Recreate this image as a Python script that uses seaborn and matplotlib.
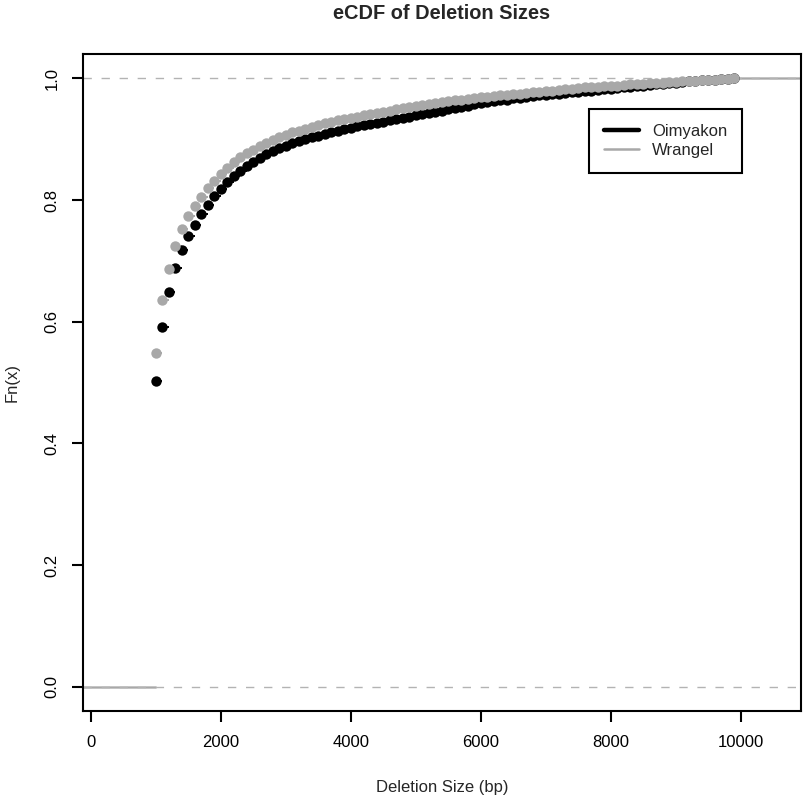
import matplotlib
import matplotlib.pyplot as plt
import seaborn as sns
from matplotlib.lines import Line2D

matplotlib.use("Agg")

# deletion size bins (bp) shared by both populations
deletion_sizes = [
    1000, 1100, 1200, 1300, 1400, 1500, 1600, 1700, 1800, 1900,
    2000, 2100, 2200, 2300, 2400, 2500, 2600, 2700, 2800, 2900,
    3000, 3100, 3200, 3300, 3400, 3500, 3600, 3700, 3800, 3900,
    4000, 4100, 4200, 4300, 4400, 4500, 4600, 4700, 4800, 4900,
    5000, 5100, 5200, 5300, 5400, 5500, 5600, 5700, 5800, 5900,
    6000, 6100, 6200, 6300, 6400, 6500, 6600, 6700, 6800, 6900,
    7000, 7100, 7200, 7300, 7400, 7500, 7600, 7700, 7800, 7900,
    8000, 8100, 8200, 8300, 8400, 8500, 8600, 8700, 8800, 8900,
    9000, 9100, 9200, 9300, 9400, 9500, 9600, 9700, 9800, 9900,
]

oimyakon_fn = [
    0.502, 0.592, 0.648, 0.689, 0.718, 0.741, 0.759, 0.777, 0.792, 0.806,
    0.818, 0.829, 0.839, 0.848, 0.856, 0.863, 0.869, 0.875, 0.880, 0.885,
    0.889, 0.893, 0.897, 0.900, 0.903, 0.906, 0.909, 0.911, 0.914, 0.916,
    0.918, 0.921, 0.923, 0.925, 0.927, 0.929, 0.931, 0.933, 0.935, 0.937,
    0.939, 0.941, 0.943, 0.945, 0.947, 0.949, 0.951, 0.953, 0.955, 0.957,
    0.959, 0.961, 0.962, 0.964, 0.965, 0.967, 0.968, 0.969, 0.971, 0.972,
    0.973, 0.974, 0.975, 0.976, 0.977, 0.978, 0.979, 0.980, 0.981, 0.982,
    0.983, 0.984, 0.985, 0.986, 0.987, 0.988, 0.989, 0.990, 0.991, 0.992,
    0.993, 0.994, 0.995, 0.996, 0.997, 0.997, 0.998, 0.999, 0.9995, 1.0,
]

wrangel_fn = [
    0.549, 0.635, 0.686, 0.724, 0.753, 0.773, 0.790, 0.805, 0.819, 0.832,
    0.843, 0.853, 0.862, 0.870, 0.877, 0.883, 0.889, 0.894, 0.899, 0.903,
    0.907, 0.911, 0.914, 0.917, 0.920, 0.923, 0.926, 0.928, 0.931, 0.933,
    0.935, 0.937, 0.939, 0.941, 0.943, 0.945, 0.947, 0.949, 0.951, 0.953,
    0.955, 0.956, 0.958, 0.959, 0.961, 0.962, 0.964, 0.965, 0.966, 0.968,
    0.969, 0.970, 0.971, 0.972, 0.973, 0.974, 0.975, 0.976, 0.977, 0.978,
    0.979, 0.980, 0.981, 0.982, 0.983, 0.984, 0.985, 0.985, 0.986, 0.987,
    0.988, 0.988, 0.989, 0.990, 0.990, 0.991, 0.992, 0.992, 0.993, 0.994,
    0.994, 0.995, 0.996, 0.996, 0.997, 0.998, 0.998, 0.999, 0.9995, 1.0,
]

series_names = ["Oimyakon", "Wrangel"]
x_ticks = [0, 2000, 4000, 6000, 8000, 10000]
y_ticks = [0.0, 0.2, 0.4, 0.6, 0.8, 1.0]

BLACK = "black"
GREY = "#a8a8a8"
LINE01 = "#b3b3b3"


def draw_ecdf(ax, sizes, fn, color):
    # R-style step function: points at knots, horizontals only, plus tails
    ax.hlines(fn[:-1], sizes[:-1], sizes[1:], color=color, lw=1.4, zorder=2)
    ax.hlines(0, -2000, sizes[0], color=color, lw=1.0, zorder=2)
    ax.hlines(fn[-1], sizes[-1], 14000, color=color, lw=1.0, zorder=2)
    sns.scatterplot(x=sizes, y=fn, color=color, s=56, linewidth=0,
                    ax=ax, zorder=3, legend=False)


def main() -> None:
    sns.set_style("ticks")
    plt.rcParams["font.family"] = ["Liberation Sans", "DejaVu Sans"]

    fig = plt.figure(figsize=(8.1, 8.0), dpi=100)
    ax = fig.add_axes([0.1025, 0.11125, 0.8864, 0.82125])

    draw_ecdf(ax, deletion_sizes, oimyakon_fn, BLACK)
    for h in (0, 1):
        ax.axhline(h, color=LINE01, lw=1.0, dashes=(6, 7), zorder=2.5)
    draw_ecdf(ax, deletion_sizes, wrangel_fn, GREY)

    ax.set_xlim(-123, 10930)
    ax.set_ylim(-0.04, 1.04)
    ax.set_xticks(x_ticks)
    ax.set_yticks(y_ticks)
    ax.set_xticklabels([str(t) for t in x_ticks])
    ax.set_yticklabels([f"{t:.1f}" for t in y_ticks])

    for side in ax.spines.values():
        side.set_linewidth(1.5)
        side.set_color("black")
    ax.tick_params(axis="both", direction="out", length=8, width=1.5,
                   color="black", labelsize=12, labelcolor="black", pad=9)
    ax.tick_params(axis="y", labelrotation=90)
    for lab in ax.get_yticklabels():
        lab.set_verticalalignment("center")

    ax.set_title("eCDF of Deletion Sizes", fontsize=14.4,
                 fontweight="bold", pad=25)
    ax.set_xlabel("Deletion Size (bp)", fontsize=12)
    ax.set_ylabel("Fn(x)", fontsize=12)
    ax.xaxis.label.set_verticalalignment("center")
    ax.xaxis.set_label_coords(0.5, -0.1157)
    ax.yaxis.label.set_verticalalignment("center")
    ax.yaxis.set_label_coords(-0.0989, 0.5)

    handles = [
        Line2D([], [], color=BLACK, lw=3.2),
        Line2D([], [], color=GREY, lw=1.8),
    ]
    leg = ax.legend(handles, series_names, loc="upper right",
                    bbox_to_anchor=(0.918, 0.9163), fontsize=12,
                    frameon=True, fancybox=False, framealpha=1,
                    edgecolor="black", handlelength=2.1,
                    handletextpad=0.75, labelspacing=0.25, borderpad=0.9,
                    borderaxespad=0)
    leg.get_frame().set_linewidth(1.5)

    fig.savefig("out.png", dpi=100, facecolor="white")
    plt.close(fig)


if __name__ == "__main__":
    main()
